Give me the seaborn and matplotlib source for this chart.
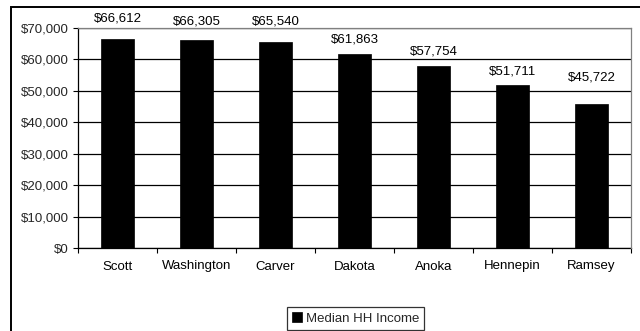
import matplotlib
matplotlib.use("Agg")
import matplotlib.pyplot as plt
from matplotlib.patches import Rectangle
from matplotlib.ticker import FuncFormatter, MultipleLocator, FixedLocator
import seaborn as sns

# Median household income by county
counties = ["Scott", "Washington", "Carver", "Dakota", "Anoka", "Hennepin", "Ramsey"]
median_income = [66612, 66305, 65540, 61863, 57754, 51711, 45722]
series_name = "Median HH Income"

# vertical distance (pixels) of each value label above its bar
label_lift_px = [20.6, 18.6, 21.0, 13.6, 14.5, 13.5, 27.3]

sns.set_style("white")
plt.rcParams["font.family"] = ["Liberation Sans", "DejaVu Sans"]
FS = 9.5
plt.rcParams["font.size"] = FS

W, H = 640, 331
fig = plt.figure(figsize=(W / 100, H / 100), dpi=100)
fig.patch.set_facecolor("white")

left, right, top, bottom = 78, 631, 28, 248
ax = fig.add_axes([left / W, 1 - bottom / H, (right - left) / W, (bottom - top) / H])

sns.barplot(x=counties, y=median_income, color="black", width=0.41,
            saturation=1, edgecolor="black", linewidth=0.5, label=series_name,
            ax=ax, zorder=3)

ax.set_ylim(0, 70000)
ax.set_xlim(-0.5, len(counties) - 0.5)
ax.yaxis.set_major_locator(MultipleLocator(10000))
ax.yaxis.set_major_formatter(FuncFormatter(lambda v, _: f"${v:,.0f}"))
ax.set_xlabel("")
ax.set_ylabel("")

# horizontal gridlines
ax.grid(axis="y", color="black", linewidth=0.9, zorder=0)
ax.set_axisbelow(True)

# category boundary ticks on the x axis
ax.xaxis.set_minor_locator(FixedLocator([i - 0.5 for i in range(len(counties) + 1)]))
ax.tick_params(axis="x", which="major", length=0, pad=9.0, labelsize=FS, colors="black")
ax.tick_params(axis="x", which="minor", length=3.5, width=0.8, color="black", direction="out", bottom=True)
ax.tick_params(axis="y", which="major", length=3.5, width=0.8, color="black", direction="out",
               left=True, pad=3, labelsize=FS)

for side in ("left", "bottom"):
    ax.spines[side].set_color("black")
    ax.spines[side].set_linewidth(0.9)
for side in ("top", "right"):
    ax.spines[side].set_color("#808080")
    ax.spines[side].set_linewidth(0.9)
    ax.spines[side].set_zorder(5)

# value labels above bars
for i, (v, lift) in enumerate(zip(median_income, label_lift_px)):
    ax.annotate(f"${v:,.0f}", xy=(i, v), xytext=(0, lift), textcoords="offset pixels",
                ha="center", va="center", fontsize=FS, color="black")

leg = ax.legend(loc="center", bbox_to_anchor=(355.5 / W, 1 - 318.5 / H),
                bbox_transform=fig.transFigure, frameon=True, fancybox=False,
                edgecolor="black", handlelength=0.75, handleheight=0.75,
                handletextpad=0.3, borderpad=0.4, borderaxespad=0, fontsize=FS)
leg.get_frame().set_linewidth(0.9)

# outer chart frame, running off the right and bottom edges
fig.patches.append(Rectangle((10.5 / W, -0.1), 1.2, 1 - 7 / H + 0.1,
                             transform=fig.transFigure, fill=False,
                             edgecolor="black", linewidth=1.4, zorder=10))

fig.savefig("out.png", dpi=100, facecolor="white")
